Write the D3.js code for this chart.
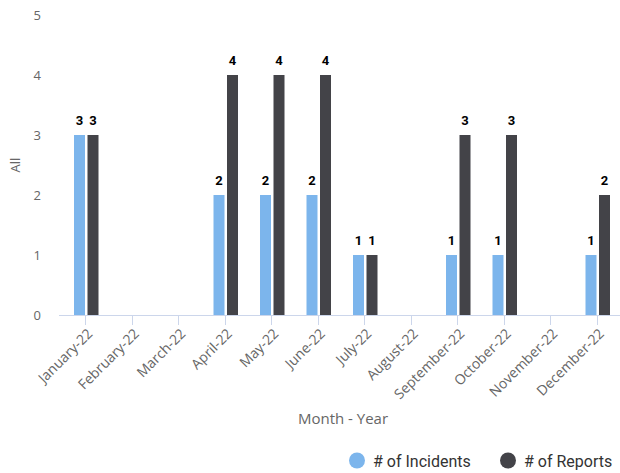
<!DOCTYPE html>
<html><head><meta charset="utf-8">
<script src="https://cdn.jsdelivr.net/npm/d3@7"></script>
<style>body{margin:0;background:#fff}svg{display:block}</style>
</head><body><svg id="c" width="620" height="473"></svg>
<script>
const months = ["January-22","February-22","March-22","April-22","May-22","June-22","July-22","August-22","September-22","October-22","November-22","December-22"];
const incidents = [3,0,0,2,2,2,1,0,1,1,0,1];
const reports = [3,0,0,4,4,4,1,0,3,3,0,2];
const yTicks = [0,1,2,3,4,5];
const seriesNames = ["# of Incidents","# of Reports"];
const colors = ["#7cb5ec","#434348"];

const svg = d3.select("#c");
const x = d3.scaleBand().domain(months).range([62.75,620.75]).padding(0);
const y = d3.scaleLinear().domain([0,5]).range([315,15]);
const cx = m => x(m) + x.bandwidth()/2;

// y labels
svg.append("g").selectAll("text").data(yTicks).join("text")
  .attr("x",41).attr("y",d=>y(d)).attr("dy","0.35em").attr("text-anchor","end")
  .attr("font-family","Open Sans").attr("font-size",13).attr("fill","#666").text(d=>d);

svg.append("text").attr("transform","translate(20,165) rotate(-90)").attr("text-anchor","middle")
  .attr("font-family","Open Sans").attr("font-size",13).attr("fill","#666").text("All");

// axis line and ticks
svg.append("line").attr("x1",59).attr("x2",620).attr("y1",315.5).attr("y2",315.5).attr("stroke","#ccd6eb");
svg.append("g").selectAll("line").data(months).join("line")
  .attr("x1",d=>Math.round(cx(d))-0.5).attr("x2",d=>Math.round(cx(d))-0.5).attr("y1",315).attr("y2",325)
  .attr("stroke","#ccd6eb");

// bars
const series = [incidents, reports];
const offs = [-12, 1.5];
series.forEach((vals,si)=>{
  const g = svg.append("g");
  g.selectAll("rect").data(months.map((m,i)=>({m,v:vals[i]})).filter(d=>d.v>0)).join("rect")
    .attr("x",d=>cx(d.m)+offs[si]).attr("width",11)
    .attr("y",d=>y(d.v)).attr("height",d=>y(0)-y(d.v)).attr("fill",colors[si]);
  g.selectAll("text").data(months.map((m,i)=>({m,v:vals[i]})).filter(d=>d.v>0)).join("text")
    .attr("x",d=>cx(d.m)+offs[si]+5.5).attr("y",d=>y(d.v)-10.5).attr("text-anchor","middle")
    .attr("font-family","Roboto").attr("font-weight","bold").attr("font-size",13)
    .attr("fill","#000").attr("stroke","#fff").attr("stroke-width",2).attr("paint-order","stroke")
    .text(d=>d.v);
});

// x labels
svg.append("g").selectAll("text").data(months).join("text")
  .attr("transform",d=>`translate(${cx(d)+4},331) rotate(-45)`)
  .attr("text-anchor","end").attr("dy","0.35em")
  .attr("font-family","Open Sans").attr("font-size",14).attr("fill","#666").text(d=>d);

svg.append("text").attr("x",343).attr("y",424).attr("text-anchor","middle")
  .attr("font-family","Open Sans").attr("font-size",15).attr("fill","#666").text("Month - Year");

// legend
const lx = [357,508];
seriesNames.forEach((n,i)=>{
  svg.append("circle").attr("cx",lx[i]).attr("cy",460.5).attr("r",8).attr("fill",colors[i]);
  svg.append("text").attr("x",lx[i]+16).attr("y",466.5).attr("font-family","Roboto").attr("font-size",16)
    .attr("fill","#333").text(n);
});
</script></body></html>
